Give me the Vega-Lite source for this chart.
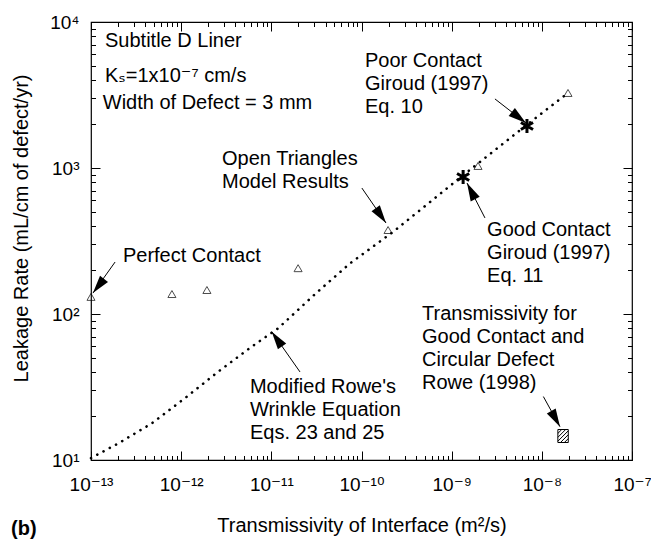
{
  "$schema": "https://vega.github.io/schema/vega-lite/v6.json",
  "width": 541,
  "height": 438,
  "autosize": {"type": "none"},
  "padding": {"left": 91, "top": 22, "right": 19, "bottom": 81},
  "background": "white",
  "title": {"text": "(b)", "orient": "bottom", "anchor": "start", "frame": "bounds", "fontSize": 20, "fontWeight": "bold", "font": "Liberation Sans, Arial, sans-serif", "color": "black", "offset": -16},
  "config": {
    "view": {"stroke": "black", "strokeWidth": 1.2},
    "font": "Liberation Sans, Arial, sans-serif",
    "axis": {"grid": false, "tickColor": "black", "tickWidth": 1, "labelColor": "black", "titleColor": "black", "labelFont": "Liberation Sans, DejaVu Sans, sans-serif", "titleFont": "Liberation Sans, DejaVu Sans, sans-serif", "labelFontSize": 19, "titleFontSize": 20, "titleFontWeight": "normal", "labelFlush": false, "labelOverlap": false, "labelBound": false}
  },
  "datasets": {
    "curve": [
      {"T": 1e-13, "Q": 10.3}, {"T": 2.01e-13, "Q": 13.0}, {"T": 4.71e-13, "Q": 17.8}, {"T": 1.1e-12, "Q": 26.5},
      {"T": 2.58e-12, "Q": 40.3}, {"T": 6.05e-12, "Q": 59.7}, {"T": 1.19e-11, "Q": 79.8}, {"T": 3.18e-11, "Q": 140},
      {"T": 7.45e-11, "Q": 222}, {"T": 2.25e-10, "Q": 366}, {"T": 1.35e-9, "Q": 895}, {"T": 6.79e-9, "Q": 1972}, {"T": 1.75e-8, "Q": 3100}
    ],
    "model": [
      {"T": 1e-13, "Q": 131}, {"T": 7.9e-13, "Q": 137}, {"T": 1.93e-12, "Q": 146}, {"T": 1.98e-11, "Q": 206},
      {"T": 1.97e-10, "Q": 376}, {"T": 1.96e-9, "Q": 1033}, {"T": 1.95e-8, "Q": 3266}
    ],
    "giroud": [{"T": 1.34e-9, "Q": 867, "case": "Good contact"}, {"T": 6.84e-9, "Q": 1941, "case": "Poor contact"}],
    "rowe": [{"T": 1.72e-8, "Q": 14.6}],
    "arrows": [
      {"id": "perfect", "T1": 1.85e-13, "Q1": 227, "T2": 1.05e-13, "Q2": 139},
      {"id": "open", "T1": 1.01e-10, "Q1": 729, "T2": 1.87e-10, "Q2": 420},
      {"id": "poor", "T1": 3.02e-9, "Q1": 2972, "T2": 6.67e-9, "Q2": 2032},
      {"id": "good", "T1": 2.34e-9, "Q1": 455, "T2": 1.48e-9, "Q2": 789},
      {"id": "rowemod", "T1": 2.08e-11, "Q1": 40.1, "T2": 1.01e-11, "Q2": 75.7},
      {"id": "rowe98", "T1": 1.04e-8, "Q1": 27.2, "T2": 1.59e-8, "Q2": 16.9}
    ],
    "notes": [
      {"label": "Subtitle D Liner", "T": 1.43e-13, "Q": 6745},
      {"label": "Kₛ=1x10⁻⁷ cm/s", "T": 1.43e-13, "Q": 3882},
      {"label": "Width of Defect = 3 mm", "T": 1.35e-13, "Q": 2535},
      {"label": "Poor Contact", "T": 1.094e-10, "Q": 4920},
      {"label": "Giroud (1997)", "T": 1.094e-10, "Q": 3420},
      {"label": "Eq. 10", "T": 1.094e-10, "Q": 2382},
      {"label": "Open Triangles", "T": 2.84e-12, "Q": 1050},
      {"label": "Model Results", "T": 2.84e-12, "Q": 729},
      {"label": "Perfect Contact", "T": 2.26e-13, "Q": 227},
      {"label": "Good Contact", "T": 2.47e-9, "Q": 342},
      {"label": "Giroud (1997)", "T": 2.47e-9, "Q": 238},
      {"label": "Eq. 11", "T": 2.47e-9, "Q": 166},
      {"label": "Transmissivity for", "T": 4.69e-10, "Q": 91},
      {"label": "Good Contact and", "T": 4.69e-10, "Q": 63.2},
      {"label": "Circular Defect", "T": 4.69e-10, "Q": 44.1},
      {"label": "Rowe (1998)", "T": 4.69e-10, "Q": 30.6},
      {"label": "Modified Rowe's", "T": 5.79e-12, "Q": 28.8},
      {"label": "Wrinkle Equation", "T": 5.79e-12, "Q": 20.0},
      {"label": "Eqs. 23 and 25", "T": 5.79e-12, "Q": 13.9}
    ]
  },
  "resolve": {"axis": {"x": "independent", "y": "independent"}},
  "layer": [
    {
      "data": {"name": "curve"},
      "mark": {"type": "line", "color": "black", "strokeWidth": 2.6, "strokeDash": [0.1, 7], "strokeCap": "round"},
      "encoding": {
        "x": {"field": "T", "type": "quantitative", "scale": {"type": "log", "domain": [1e-13, 1e-7], "nice": false},
          "axis": {"orient": "bottom", "values": [1e-13, 1e-12, 1e-11, 1e-10, 1e-9, 1e-8, 1e-7], "tickSize": 9, "offset": -9, "domain": false, "labelPadding": 15,
            "labelExpr": "['10⁻¹³','10⁻¹²','10⁻¹¹','10⁻¹⁰','10⁻⁹','10⁻⁸','10⁻⁷'][round(log(datum.value)/LN10)+13]",
            "title": "Transmissivity of Interface (m²/s)", "titlePadding": 21}},
        "y": {"field": "Q", "type": "quantitative", "scale": {"type": "log", "domain": [10, 10000], "nice": false},
          "axis": {"orient": "left", "values": [10, 100, 1000, 10000], "tickSize": 9, "offset": -9, "domain": false, "labelPadding": 12,
            "labelExpr": "['10¹','10²','10³','10⁴'][round(log(datum.value)/LN10)-1]",
            "title": "Leakage Rate (mL/cm of defect/yr)", "titleX": -69, "titleY": 206, "titleAngle": -90, "titleAlign": "center", "titleBaseline": "bottom"}}
      }
    },
    {
      "data": {"name": "model"},
      "mark": {"type": "point", "shape": "triangle-up", "size": 65, "filled": false, "color": "black", "strokeWidth": 1},
      "encoding": {
        "x": {"field": "T", "type": "quantitative", "scale": {"type": "log", "domain": [1e-13, 1e-7], "nice": false},
          "axis": {"orient": "bottom", "values": [2e-13, 3e-13, 4e-13, 5e-13, 6e-13, 7e-13, 8e-13, 9e-13, 2e-12, 3e-12, 4e-12, 5e-12, 6e-12, 7e-12, 8e-12, 9e-12, 2e-11, 3e-11, 4e-11, 5e-11, 6e-11, 7e-11, 8e-11, 9e-11, 2e-10, 3e-10, 4e-10, 5e-10, 6e-10, 7e-10, 8e-10, 9e-10, 2e-9, 3e-9, 4e-9, 5e-9, 6e-9, 7e-9, 8e-9, 9e-9, 2e-8, 3e-8, 4e-8, 5e-8, 6e-8, 7e-8, 8e-8, 9e-8], "tickSize": 4.5, "offset": -4.5, "domain": false, "labels": false, "title": null}},
        "y": {"field": "Q", "type": "quantitative", "scale": {"type": "log", "domain": [10, 10000], "nice": false},
          "axis": {"orient": "left", "values": [20, 30, 40, 50, 60, 70, 80, 90, 200, 300, 400, 500, 600, 700, 800, 900, 2000, 3000, 4000, 5000, 6000, 7000, 8000, 9000], "tickSize": 4.5, "offset": -4.5, "domain": false, "labels": false, "title": null}}
      }
    },
    {
      "data": {"name": "giroud"},
      "mark": {"type": "point", "shape": "M0,-1L0,1M-0.87,-0.5L0.87,0.5M-0.87,0.5L0.87,-0.5", "size": 196, "filled": false, "color": "black", "opacity": 1, "strokeWidth": 3},
      "encoding": {
        "x": {"field": "T", "type": "quantitative", "scale": {"type": "log", "domain": [1e-13, 1e-7], "nice": false},
          "axis": {"orient": "top", "values": [1e-13, 1e-12, 1e-11, 1e-10, 1e-9, 1e-8, 1e-7], "tickSize": 9, "offset": -9, "domain": false, "labels": false, "title": null}},
        "y": {"field": "Q", "type": "quantitative", "scale": {"type": "log", "domain": [10, 10000], "nice": false},
          "axis": {"orient": "right", "values": [10, 100, 1000, 10000], "tickSize": 9, "offset": -9, "domain": false, "labels": false, "title": null}}
      }
    },
    {
      "data": {"name": "rowe"},
      "mark": {"type": "point", "shape": "M-0.8,-1H0.8V1H-0.8Z M-0.8,0.8L0.8,-0.8 M-0.4,1L0.8,-0.2 M0.2,1L0.8,0.4 M-0.8,0.2L0.4,-1 M-0.8,-0.4L-0.2,-1", "size": 169, "filled": false, "color": "black", "opacity": 1, "strokeWidth": 1},
      "encoding": {
        "x": {"field": "T", "type": "quantitative", "scale": {"type": "log", "domain": [1e-13, 1e-7], "nice": false},
          "axis": {"orient": "top", "values": [2e-13, 3e-13, 4e-13, 5e-13, 6e-13, 7e-13, 8e-13, 9e-13, 2e-12, 3e-12, 4e-12, 5e-12, 6e-12, 7e-12, 8e-12, 9e-12, 2e-11, 3e-11, 4e-11, 5e-11, 6e-11, 7e-11, 8e-11, 9e-11, 2e-10, 3e-10, 4e-10, 5e-10, 6e-10, 7e-10, 8e-10, 9e-10, 2e-9, 3e-9, 4e-9, 5e-9, 6e-9, 7e-9, 8e-9, 9e-9, 2e-8, 3e-8, 4e-8, 5e-8, 6e-8, 7e-8, 8e-8, 9e-8], "tickSize": 4.5, "offset": -4.5, "domain": false, "labels": false, "title": null}},
        "y": {"field": "Q", "type": "quantitative", "scale": {"type": "log", "domain": [10, 10000], "nice": false},
          "axis": {"orient": "right", "values": [20, 30, 40, 50, 60, 70, 80, 90, 200, 300, 400, 500, 600, 700, 800, 900, 2000, 3000, 4000, 5000, 6000, 7000, 8000, 9000], "tickSize": 4.5, "offset": -4.5, "domain": false, "labels": false, "title": null}}
      }
    },
    {
      "data": {"name": "arrows"},
      "mark": {"type": "rule", "color": "black", "strokeWidth": 1},
      "encoding": {
        "x": {"field": "T1", "type": "quantitative", "scale": {"type": "log", "domain": [1e-13, 1e-7], "nice": false}, "axis": null},
        "y": {"field": "Q1", "type": "quantitative", "scale": {"type": "log", "domain": [10, 10000], "nice": false}, "axis": null},
        "x2": {"field": "T2"},
        "y2": {"field": "Q2"}
      }
    },
    {
      "data": {"name": "arrows"}, "transform": [{"filter": "datum.id == 'perfect'"}],
      "mark": {"type": "point", "shape": "M0,0L0.28,1L-0.28,1Z", "size": 1300, "filled": true, "color": "black", "opacity": 1, "angle": 218},
      "encoding": {"x": {"field": "T2", "type": "quantitative", "axis": null}, "y": {"field": "Q2", "type": "quantitative", "axis": null}}
    },
    {
      "data": {"name": "arrows"}, "transform": [{"filter": "datum.id == 'open'"}],
      "mark": {"type": "point", "shape": "M0,0L0.28,1L-0.28,1Z", "size": 1300, "filled": true, "color": "black", "opacity": 1, "angle": 145},
      "encoding": {"x": {"field": "T2", "type": "quantitative", "axis": null}, "y": {"field": "Q2", "type": "quantitative", "axis": null}}
    },
    {
      "data": {"name": "arrows"}, "transform": [{"filter": "datum.id == 'poor'"}],
      "mark": {"type": "point", "shape": "M0,0L0.28,1L-0.28,1Z", "size": 1300, "filled": true, "color": "black", "opacity": 1, "angle": 128},
      "encoding": {"x": {"field": "T2", "type": "quantitative", "axis": null}, "y": {"field": "Q2", "type": "quantitative", "axis": null}}
    },
    {
      "data": {"name": "arrows"}, "transform": [{"filter": "datum.id == 'good'"}],
      "mark": {"type": "point", "shape": "M0,0L0.28,1L-0.28,1Z", "size": 1300, "filled": true, "color": "black", "opacity": 1, "angle": 333},
      "encoding": {"x": {"field": "T2", "type": "quantitative", "axis": null}, "y": {"field": "Q2", "type": "quantitative", "axis": null}}
    },
    {
      "data": {"name": "arrows"}, "transform": [{"filter": "datum.id == 'rowemod'"}],
      "mark": {"type": "point", "shape": "M0,0L0.28,1L-0.28,1Z", "size": 1300, "filled": true, "color": "black", "opacity": 1, "angle": 325},
      "encoding": {"x": {"field": "T2", "type": "quantitative", "axis": null}, "y": {"field": "Q2", "type": "quantitative", "axis": null}}
    },
    {
      "data": {"name": "arrows"}, "transform": [{"filter": "datum.id == 'rowe98'"}],
      "mark": {"type": "point", "shape": "M0,0L0.28,1L-0.28,1Z", "size": 1300, "filled": true, "color": "black", "opacity": 1, "angle": 151},
      "encoding": {"x": {"field": "T2", "type": "quantitative", "axis": null}, "y": {"field": "Q2", "type": "quantitative", "axis": null}}
    },
    {
      "data": {"name": "notes"},
      "mark": {"type": "text", "align": "left", "baseline": "alphabetic", "fontSize": 20, "font": "Liberation Sans, DejaVu Sans, sans-serif", "color": "black"},
      "encoding": {
        "x": {"field": "T", "type": "quantitative", "axis": null},
        "y": {"field": "Q", "type": "quantitative", "axis": null},
        "text": {"field": "label"}
      }
    }
  ]
}
